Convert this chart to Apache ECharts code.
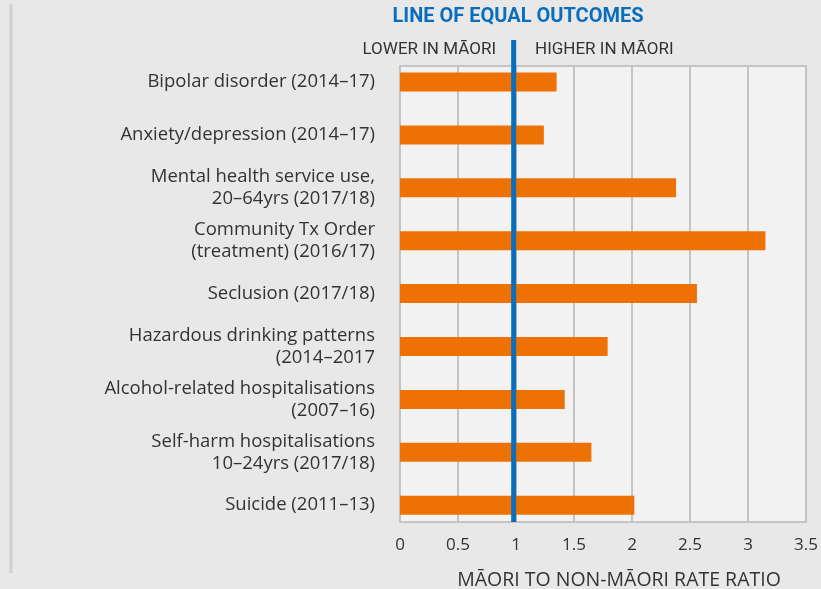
<!DOCTYPE html>
<html><head><meta charset="utf-8">
<script src="https://cdn.jsdelivr.net/npm/echarts@6/dist/echarts.min.js"></script>
<style>html,body{margin:0;padding:0;background:#e8e8e8}#c{width:821px;height:589px}</style>
</head><body><div id="c"></div>
<script>
const categories = [
  "Bipolar disorder (2014–17)",
  "Anxiety/depression (2014–17)",
  "Mental health service use,\n20–64yrs (2017/18)",
  "Community Tx Order\n(treatment) (2016/17)",
  "Seclusion (2017/18)",
  "Hazardous drinking patterns\n(2014–2017",
  "Alcohol-related hospitalisations\n(2007–16)",
  "Self-harm hospitalisations\n10–24yrs (2017/18)",
  "Suicide (2011–13)"
];
const ratios = [1.35, 1.24, 2.38, 3.15, 2.56, 1.79, 1.42, 1.65, 2.02];
const equalLine = 0.98;
const xTicks = [0, 0.5, 1, 1.5, 2, 2.5, 3, 3.5];

const FONT = "'Open Sans',sans-serif";
const NARROW = "'Liberation Sans Narrow','Roboto',sans-serif";
const chart = echarts.init(document.getElementById('c'));
chart.setOption({
  backgroundColor: '#e8e8e8',
  animation: false,
  title: [
    {text: 'LINE OF EQUAL OUTCOMES', left: 513, top: 2, textAlign: 'center',
     textStyle: {color: '#0a6ebd', fontSize: 20, fontWeight: 'bold', fontFamily: NARROW}},
    {text: 'LOWER IN MĀORI', left: 491, top: 36, textAlign: 'right',
     textStyle: {color: '#333', fontSize: 17, fontWeight: 'normal', fontFamily: NARROW}},
    {text: 'HIGHER IN MĀORI', left: 530, top: 36,
     textStyle: {color: '#333', fontSize: 17, fontWeight: 'normal', fontFamily: NARROW}},
    {text: 'MĀORI TO NON-MĀORI RATE RATIO', left: 614, top: 565, textAlign: 'center',
     textStyle: {color: '#333', fontSize: 19.5, fontWeight: 'normal', fontFamily: FONT}}
  ],
  graphic: [
    {type: 'line', shape: {x1: 11, y1: 4, x2: 11, y2: 573}, style: {stroke: '#d0d0d0', lineWidth: 3}}
  ],
  grid: [
    {left: 400, right: 15, top: 66, bottom: 67, show: true, backgroundColor: '#f2f2f2', borderColor: '#c4c4c4', borderWidth: 2},
    {left: 400, right: 15, top: 55.6, height: 476},
    {left: 400, right: 15, top: 40, bottom: 67}
  ],
  xAxis: [
    {gridIndex: 0, type: 'value', min: 0, max: 3.5, interval: 0.5,
     axisLine: {show: false}, axisTick: {show: false},
     splitLine: {lineStyle: {color: '#c4c4c4', width: 2}},
     axisLabel: {margin: 15, color: '#333', fontSize: 17, fontFamily: FONT,
       formatter: v => String(v)}},
    {gridIndex: 1, type: 'value', min: 0, max: 3.5, show: false},
    {gridIndex: 2, type: 'value', min: 0, max: 3.5, show: false}
  ],
  yAxis: [
    {gridIndex: 0, type: 'value', min: 0, max: 1, show: false},
    {gridIndex: 1, type: 'category', data: categories, inverse: true,
     axisLine: {show: false}, axisTick: {show: false},
     axisLabel: {margin: 25, color: '#333', fontSize: 18.5, lineHeight: 22, fontFamily: FONT, align: 'right'}},
    {gridIndex: 2, type: 'value', min: 0, max: 1, show: false}
  ],
  series: [
    {type: 'bar', xAxisIndex: 1, yAxisIndex: 1, data: ratios, barWidth: 19,
     itemStyle: {color: '#ee7203'}, silent: true},
    {type: 'line', xAxisIndex: 2, yAxisIndex: 2, data: [[equalLine, 0], [equalLine, 1]],
     symbol: 'none', lineStyle: {color: '#0a6ebd', width: 5}, silent: true}
  ]
});
</script></body></html>
